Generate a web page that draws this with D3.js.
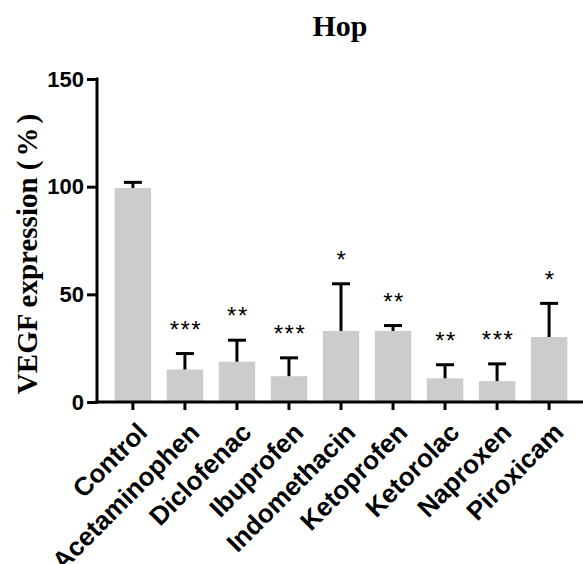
<!DOCTYPE html>
<html><head><meta charset="utf-8">
<script src="https://cdn.jsdelivr.net/npm/d3@7"></script>
<style>body{margin:0;background:#fff}svg{display:block}</style>
</head><body>
<svg id="c" width="583" height="564"></svg>
<script>
const categories = ["Control","Acetaminophen","Diclofenac","Ibuprofen","Indomethacin","Ketoprofen","Ketorolac","Naproxen","Piroxicam"];
const means = [99.4, 15.1, 18.7, 12.0, 33.0, 33.0, 11.0, 9.7, 30.2];
const errors = [2.6, 7.4, 10.0, 8.5, 21.9, 2.5, 6.3, 8.0, 15.6];
const stars = ["", "***", "**", "***", "*", "**", "**", "***", "*"];
const yTicks = [0, 50, 100, 150];
const title = "Hop";
const yLabel = "VEGF expression (%)";

const svg = d3.select("#c");
const axisX = 97, axisY = 402, topY = 79;
const x = d3.scaleBand().domain(categories).range([axisX, 585]).paddingInner(0.3).paddingOuter(0.34);
const y = d3.scaleLinear().domain([0, 150]).range([axisY, topY]);
const data = categories.map((c, i) => ({c, m: means[i], e: errors[i], s: stars[i]}));

// bars
svg.append("g").selectAll("rect").data(data).join("rect")
  .attr("x", d => x(d.c)).attr("width", x.bandwidth())
  .attr("y", d => y(d.m)).attr("height", d => y(0) - y(d.m))
  .attr("fill", "#cccccc");

// error bars
const eg = svg.append("g").attr("stroke", "#000").attr("stroke-width", 3);
data.forEach(d => {
  const cx = x(d.c) + x.bandwidth() / 2;
  eg.append("line").attr("x1", cx).attr("x2", cx).attr("y1", y(d.m)).attr("y2", y(d.m + d.e));
  eg.append("line").attr("x1", cx - 9).attr("x2", cx + 9).attr("y1", y(d.m + d.e)).attr("y2", y(d.m + d.e));
});

// stars
svg.append("g").selectAll("text").data(data.filter(d => d.s)).join("text")
  .attr("x", d => x(d.c) + x.bandwidth() / 2 + 1)
  .attr("y", d => y(d.m + d.e) - 15.7)
  .attr("text-anchor", "middle")
  .attr("font-family", "Liberation Sans, Arial, sans-serif")
  .attr("font-size", 24).attr("letter-spacing", 1.5)
  .text(d => d.s);

// y axis
const yAxis = svg.append("g").attr("transform", `translate(${axisX},0)`)
  .call(d3.axisLeft(y).tickValues(yTicks).tickSize(10).tickPadding(3).tickSizeOuter(0));
yAxis.select(".domain").attr("stroke-width", 3).attr("d", `M0,${axisY + 1.5}V${topY - 1.5}`);
yAxis.selectAll(".tick line").attr("stroke-width", 3);
yAxis.selectAll(".tick text").attr("font-family", "Liberation Sans, Arial, sans-serif")
  .attr("font-weight", "bold").attr("font-size", 22).attr("fill", "#000");

// x axis
const xAxis = svg.append("g").attr("transform", `translate(0,${axisY})`)
  .call(d3.axisBottom(x).tickSize(8).tickSizeOuter(0));
xAxis.select(".domain").attr("stroke-width", 3).attr("d", `M${axisX - 1.5},0H585`);
xAxis.selectAll(".tick line").attr("stroke-width", 3);
xAxis.selectAll(".tick text")
  .attr("font-family", "Liberation Sans, Arial, sans-serif")
  .attr("font-weight", "bold").attr("font-size", 26).attr("fill", "#000")
  .attr("text-anchor", "end").attr("dy", null).attr("y", null)
  .attr("transform", "translate(16,32) rotate(-45)");

// title
svg.append("text").attr("x", 340).attr("y", 36).attr("text-anchor", "middle")
  .attr("font-family", "Liberation Serif, Times New Roman, serif")
  .attr("font-weight", "bold").attr("font-size", 30).text(title);

// y label
const yl = svg.append("text").attr("transform", "translate(37,254) rotate(-90)")
  .attr("text-anchor", "middle")
  .attr("font-family", "Liberation Serif, Times New Roman, serif")
  .attr("font-weight", "bold").attr("font-size", 29);
yl.append("tspan").text("VEGF expression (");
yl.append("tspan").attr("dx", 4).text("%");
yl.append("tspan").attr("dx", 4).text(")");
</script>
</body></html>
